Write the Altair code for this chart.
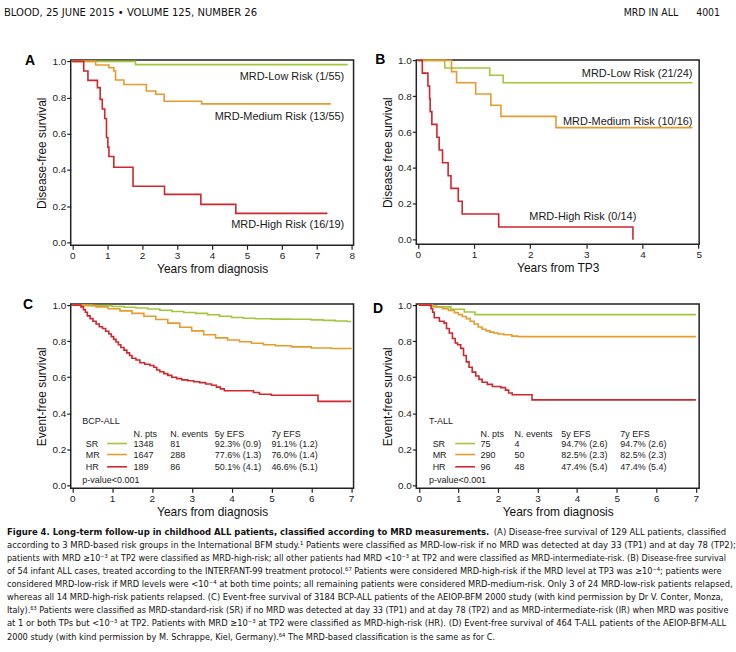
import altair as alt
import pandas as pd

FONT = "Liberation Sans, Arial, Helvetica, sans-serif"
NARROW = "Liberation Sans Narrow, Arial Narrow, DejaVu Sans Condensed, Liberation Sans, sans-serif"

GROUPS = ["low", "medium", "high"]
COLORS = ["#a2c73b", "#e99a2c", "#d0262d"]
Y_TICKS = [0.0, 0.2, 0.4, 0.6, 0.8, 1.0]

# ---- Panel A: [years, survival] ----
A_LOW = [[0, 1.0], [1.81, 0.982], [7.88, 0.982]]
A_MED = [[0, 1.0], [0.67, 0.98], [1.05, 0.965], [1.19, 0.947], [1.24, 0.897], [1.48, 0.872],
         [2.12, 0.836], [2.39, 0.818], [2.63, 0.78], [3.70, 0.765], [7.40, 0.765]]
A_HIGH = [[0, 1.0], [0.33, 0.947], [0.45, 0.895], [0.72, 0.855], [0.80, 0.79], [0.86, 0.737],
          [0.93, 0.684], [0.98, 0.579], [1.02, 0.526], [1.05, 0.474], [1.19, 0.415], [1.74, 0.31],
          [2.64, 0.265], [3.68, 0.21], [4.68, 0.16], [7.30, 0.16]]
A_LABELS = [["MRD-Low Risk (1/55)", 7.78, 0.916], ["MRD-Medium Risk (13/55)", 7.78, 0.695],
            ["MRD-High Risk (16/19)", 7.78, 0.095]]

# ---- Panel B ----
B_LOW = [[0, 1.0], [0.48, 0.958], [1.28, 0.917], [1.52, 0.875], [4.89, 0.875]]
B_MED = [[0, 1.0], [0.60, 0.9375], [0.69, 0.875], [1.03, 0.8125], [1.30, 0.75], [1.48, 0.6875],
         [2.46, 0.625], [4.89, 0.625]]
B_HIGH = [[0, 1.0], [0.08, 0.929], [0.18, 0.857], [0.21, 0.786], [0.22, 0.714], [0.25, 0.643],
          [0.34, 0.571], [0.38, 0.5], [0.44, 0.429], [0.54, 0.357], [0.59, 0.286], [0.72, 0.214],
          [0.79, 0.143], [1.44, 0.071], [3.83, 0.0]]
B_LABELS = [["MRD-Low Risk (21/24)", 4.89, 0.926], ["MRD-Medium Risk (10/16)", 4.89, 0.657],
            ["MRD-High Risk (0/14)", 3.89, 0.126]]

# ---- Panel C ----
C_SR = [[0, 1.0], [0.5, 0.997], [1.0, 0.992], [1.3, 0.988], [1.6, 0.984], [1.9, 0.978], [2.2, 0.971],
        [2.5, 0.964], [2.8, 0.959], [3.1, 0.954], [3.4, 0.946], [3.7, 0.938], [4.0, 0.931],
        [4.3, 0.927], [4.6, 0.924], [5.0, 0.922], [5.5, 0.921], [6.0, 0.918], [6.3, 0.915],
        [6.6, 0.912], [6.9, 0.909], [7.0, 0.909]]
C_MR = [[0, 1.0], [0.3, 0.997], [0.6, 0.99], [0.9, 0.98], [1.2, 0.968], [1.5, 0.954], [1.8, 0.938],
        [2.1, 0.92], [2.4, 0.9], [2.7, 0.877], [3.0, 0.857], [3.3, 0.835], [3.6, 0.818],
        [3.9, 0.806], [4.2, 0.797], [4.5, 0.788], [4.8, 0.78], [5.1, 0.774], [5.5, 0.768],
        [6.0, 0.762], [6.5, 0.759], [7.0, 0.758]]
C_HR = [[0, 1.0], [0.22, 0.99], [0.28, 0.975], [0.33, 0.96], [0.38, 0.94], [0.45, 0.925], [0.52, 0.91],
        [0.6, 0.895], [0.68, 0.88], [0.76, 0.87], [0.84, 0.855], [0.92, 0.84], [0.98, 0.825],
        [1.04, 0.81], [1.1, 0.795], [1.16, 0.78], [1.22, 0.765], [1.3, 0.75], [1.37, 0.735],
        [1.44, 0.72], [1.5, 0.705], [1.6, 0.695], [1.7, 0.68], [1.82, 0.672], [1.95, 0.665],
        [2.05, 0.655], [2.12, 0.64], [2.2, 0.63], [2.3, 0.62], [2.4, 0.61], [2.5, 0.6],
        [2.62, 0.592], [2.75, 0.585], [2.9, 0.58], [3.05, 0.575], [3.2, 0.57], [3.35, 0.562],
        [3.5, 0.555], [3.62, 0.545], [3.72, 0.535], [3.82, 0.525], [4.55, 0.515], [4.7, 0.505],
        [5.0, 0.5], [6.17, 0.466], [7.0, 0.466]]
C_TITLE = "BCP-ALL"
D_TITLE = "T-ALL"
TABLE_HEAD = ["N. pts", "N. events", "5y EFS", "7y EFS"]
ROW_NAMES = ["SR", "MR", "HR"]
C_ROWS = [["1348", "81", "92.3% (0.9)", "91.1% (1.2)"],
          ["1647", "288", "77.6% (1.3)", "76.0% (1.4)"],
          ["189", "86", "50.1% (4.1)", "46.6% (5.1)"]]

# ---- Panel D ----
D_SR = [[0, 1.0], [0.35, 0.99], [0.81, 0.977], [1.15, 0.962], [1.42, 0.947], [7.0, 0.947]]
D_MR = [[0, 1.0], [0.3, 0.995], [0.45, 0.988], [0.6, 0.98], [0.75, 0.97], [0.9, 0.958], [1.0, 0.947],
        [1.1, 0.937], [1.2, 0.925], [1.3, 0.91], [1.4, 0.895], [1.5, 0.878], [1.6, 0.866],
        [1.7, 0.857], [1.8, 0.85], [1.9, 0.845], [2.0, 0.84], [2.15, 0.835], [2.35, 0.828],
        [2.5, 0.825], [7.0, 0.825]]
D_HR = [[0, 1.0], [0.31, 0.98], [0.35, 0.96], [0.39, 0.93], [0.52, 0.91], [0.64, 0.9], [0.70, 0.87],
        [0.77, 0.845], [0.85, 0.815], [0.92, 0.79], [0.98, 0.78], [1.06, 0.76], [1.13, 0.72],
        [1.2, 0.685], [1.27, 0.655], [1.35, 0.628], [1.44, 0.607], [1.52, 0.588], [1.6, 0.572],
        [1.73, 0.56], [1.86, 0.548], [2.07, 0.542], [2.19, 0.528], [2.27, 0.512], [2.36, 0.503],
        [2.86, 0.474], [7.0, 0.474]]
D_ROWS = [["75", "4", "94.7% (2.6)", "94.7% (2.6)"],
          ["290", "50", "82.5% (2.3)", "82.5% (2.3)"],
          ["96", "48", "47.4% (5.4)", "47.4% (5.4)"]]

HEADER_LEFT = "BLOOD, 25 JUNE 2015 \u2022 VOLUME 125, NUMBER 26"
HEADER_MID = "MRD IN ALL"
HEADER_RIGHT = "4001"

CAP_BOLD = "Figure 4. Long-term follow-up in childhood ALL patients, classified according to MRD measurements."
CAP_FIRST_REST = "(A) Disease-free survival of 129 ALL patients, classified"
CAP_LINES = [
    "according to 3 MRD-based risk groups in the International BFM study.\u00b9 Patients were classified as MRD-low-risk if no MRD was detected at day 33 (TP1) and at day 78 (TP2);",
    "patients with MRD \u226510\u207b\u00b3 at TP2 were classified as MRD-high-risk; all other patients had MRD <10\u207b\u00b3 at TP2 and were classified as MRD-intermediate-risk. (B) Disease-free survival",
    "of 54 infant ALL cases, treated according to the INTERFANT-99 treatment protocol.\u2076\u2077 Patients were considered MRD-high-risk if the MRD level at TP3 was \u226510\u207b\u2074; patients were",
    "considered MRD-low-risk if MRD levels were <10\u207b\u2074 at both time points; all remaining patients were considered MRD-medium-risk. Only 3 of 24 MRD-low-risk patients relapsed,",
    "whereas all 14 MRD-high-risk patients relapsed. (C) Event-free survival of 3184 BCP-ALL patients of the AEIOP-BFM 2000 study (with kind permission by Dr V. Conter, Monza,",
    "Italy).\u2076\u00b3 Patients were classified as MRD-standard-risk (SR) if no MRD was detected at day 33 (TP1) and at day 78 (TP2) and as MRD-intermediate-risk (IR) when MRD was positive",
    "at 1 or both TPs but <10\u207b\u00b3 at TP2. Patients with MRD \u226510\u207b\u00b3 at TP2 were classified as MRD-high-risk (HR). (D) Event-free survival of 464 T-ALL patients of the AEIOP-BFM-ALL",
    "2000 study (with kind permission by M. Schrappe, Kiel, Germany).\u2076\u2074 The MRD-based classification is the same as for C.",
]
# per-line type sizes so that the justified lines fill the text column
CAP_SIZES = [9.45, 9.0, 9.17, 9.27, 9.25, 9.04, 9.32, 9.15]


def curves_df(curves):
    rows = []
    for g, pts in zip(GROUPS, curves):
        for t, s in pts:
            rows.append({"g": g, "t": t, "s": s})
    return pd.DataFrame(rows)


ONE = pd.DataFrame({"k": [0]})


def make_panel(curves, xdom, ydom, xmax, xtitle, ytitle, w, h, letter, labels=None, table=None,
               extra=None):
    xs = alt.Scale(domain=xdom, nice=False, zero=False)
    ys = alt.Scale(domain=ydom, nice=False, zero=False)
    xax = alt.Axis(values=list(range(xmax + 1)), format="d", title=xtitle, labelFlush=False)
    yax = alt.Axis(values=Y_TICKS, format=".1f", title=ytitle)
    X = alt.X("t:Q", scale=xs, axis=xax)
    Y = alt.Y("s:Q", scale=ys, axis=yax)
    col = alt.Color("g:N", scale=alt.Scale(domain=GROUPS, range=COLORS), legend=None)

    layers = list(extra or [])
    layers.append(alt.Chart(curves_df(curves)).mark_line(interpolate="step-after", strokeWidth=1.6)
                  .encode(x=X, y=Y, color=col))
    if labels:
        ldf = pd.DataFrame(labels, columns=["label", "t", "s"])
        layers.append(alt.Chart(ldf).mark_text(align="right", baseline="middle", font=FONT,
                                               fontSize=11, color="#1a1a1a")
                      .encode(x=X, y=Y, text="label:N"))
    lt = pd.DataFrame([letter], columns=["label", "t", "s"])
    layers.append(alt.Chart(lt).mark_text(align="center", baseline="middle", font=FONT, fontSize=14,
                                          fontWeight="bold", color="#000")
                  .encode(x=X, y=Y, text="label:N"))
    if table:
        title, rows, pos = table
        trows = [[title, pos["title"], 0.355]]
        for name, cx in zip(TABLE_HEAD, pos["cols"]):
            trows.append([name, cx, 0.285])
        for rname, vals, ry in zip(ROW_NAMES, rows, [0.232, 0.171, 0.103]):
            trows.append([rname, pos["row"], ry])
            for v, cx in zip(vals, pos["cols"]):
                trows.append([v, cx, ry])
        trows.append(["p-value<0.001", pos["title"], 0.028])
        tdf = pd.DataFrame(trows, columns=["label", "t", "s"])
        layers.append(alt.Chart(tdf).mark_text(align="left", baseline="middle", font=FONT,
                                               fontSize=9, color="#1a1a1a")
                      .encode(x=X, y=Y, text="label:N"))
        seg = pd.DataFrame({"g": GROUPS, "t": [pos["line"][0]] * 3, "t2": [pos["line"][1]] * 3,
                            "s": [0.232, 0.171, 0.103]})
        layers.append(alt.Chart(seg).mark_rule(strokeWidth=1.6)
                      .encode(x=X, x2="t2:Q", y=Y, color=col))
    return alt.layer(*layers).properties(width=w, height=h)


# page furniture (text), placed relative to panel A / C origins
bg = alt.Chart(ONE).mark_rect(opacity=0).encode(
    x=alt.value(-70), x2=alt.value(666), y=alt.value(-58), y2=alt.value(594))
hdr = [
    alt.Chart(ONE).mark_text(align="left", baseline="middle", font=NARROW, fontSize=11.2, color="#111")
    .encode(x=alt.value(-67), y=alt.value(-47), text=alt.value(HEADER_LEFT)),
    alt.Chart(ONE).mark_text(align="right", baseline="middle", font=NARROW, fontSize=10.5, color="#111")
    .encode(x=alt.value(610), y=alt.value(-47), text=alt.value(HEADER_MID)),
    alt.Chart(ONE).mark_text(align="right", baseline="middle", font=NARROW, fontSize=10.5, color="#111")
    .encode(x=alt.value(652), y=alt.value(-47), text=alt.value(HEADER_RIGHT)),
]
CAP_Y0 = 225
CAP_DY = 13.1
cap = [
    alt.Chart(ONE).mark_text(align="left", baseline="top", font=NARROW, fontSize=9.45,
                             fontWeight="bold", color="#111")
    .encode(x=alt.value(-64), y=alt.value(CAP_Y0), text=alt.value(CAP_BOLD)),
    alt.Chart(ONE).mark_text(align="right", baseline="top", font=NARROW, fontSize=9.4, color="#111")
    .encode(x=alt.value(658), y=alt.value(CAP_Y0), text=alt.value(CAP_FIRST_REST)),
]
for i, (line, fs) in enumerate(zip(CAP_LINES, CAP_SIZES)):
    cap.append(alt.Chart(ONE).mark_text(align="left", baseline="top", font=NARROW, fontSize=fs,
                                        color="#111")
               .encode(x=alt.value(-64), y=alt.value(CAP_Y0 + CAP_DY * (i + 1)), text=alt.value(line)))

A = make_panel([A_LOW, A_MED, A_HIGH], [-0.043, 8.048], [-0.0165, 1.0072], 8,
               "Years from diagnosis", "Disease-free survival", 284, 186,
               ["A", -1.21, 1.0], labels=A_LABELS, extra=[bg] + hdr)
B = make_panel([B_LOW, B_MED, B_HIGH], [-0.027, 5.009], [-0.026, 1.0017], 5,
               "Years from TP3", "Disease free survival", 284, 185,
               ["B", -0.67, 1.0], labels=B_LABELS)
C = make_panel([C_SR, C_MR, C_HR], [-0.0375, 7.0625], [-0.0166, 1.0055], 7,
               "Years from diagnosis", "Event-free survival", 284, 185,
               ["C", -1.11, 1.0],
               table=[C_TITLE, C_ROWS, {"title": 0.255, "row": 0.34, "cols": [1.54, 2.46, 3.58, 5.0],
                                        "line": [0.875, 1.375]}],
               extra=cap)
D = make_panel([D_SR, D_MR, D_HR], [-0.063, 7.083], [-0.0166, 1.0055], 7,
               "Years from diagnosis", "Event-free survival", 284, 185,
               ["D", -1.03, 0.98],
               table=[D_TITLE, D_ROWS, {"title": 0.26, "row": 0.35, "cols": [1.56, 2.42, 3.6, 5.09],
                                        "line": [0.92, 1.42]}])

chart = alt.concat(A, B, C, D, columns=2, spacing={"row": 59, "column": 63}, bounds="flush").properties(
    padding=0, background="white"
).configure_view(stroke="#222", strokeWidth=1.5).configure_axis(
    grid=False, domain=False, ticks=True, tickSize=4, tickWidth=1.2, tickColor="#222",
    labelFont=FONT, labelFontSize=10, labelColor="#222", labelPadding=1,
    titleFont=FONT, titleFontSize=12, titleFontWeight="normal", titleColor="#111", titlePadding=3,
)

chart.save("out.html", embed_options={"renderer": "svg", "actions": False})
